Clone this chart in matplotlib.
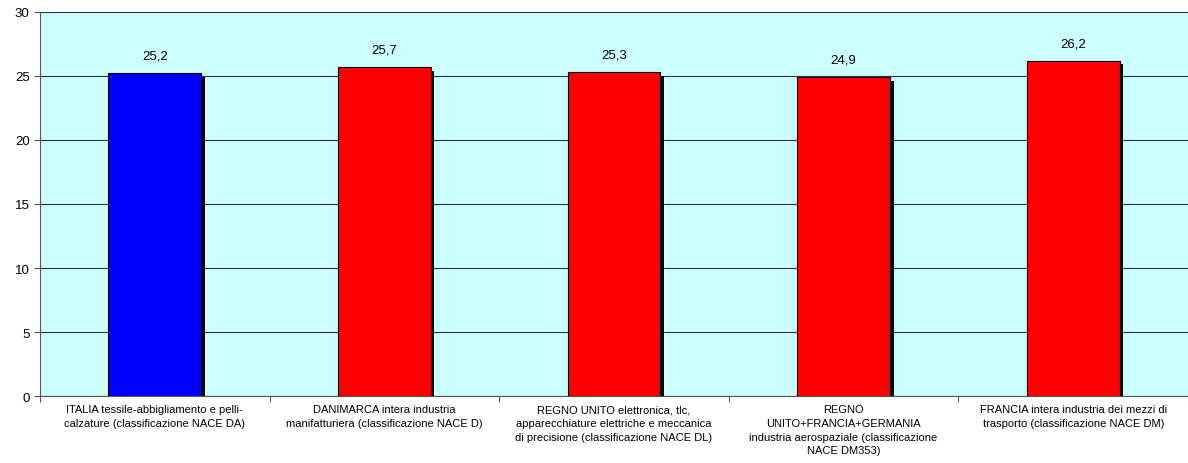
import matplotlib.pyplot as plt
import matplotlib.patheffects as pe
import numpy as np

plt.rcParams['font.family'] = ['Liberation Sans', 'DejaVu Sans']

categorie = [
    'ITALIA tessile-abbigliamento e pelli-\ncalzature (classificazione NACE DA)',
    'DANIMARCA intera industria\nmanifatturiera (classificazione NACE D)',
    'REGNO UNITO elettronica, tlc,\napparecchiature elettriche e meccanica\ndi precisione (classificazione NACE DL)',
    'REGNO\nUNITO+FRANCIA+GERMANIA\nindustria aerospaziale (classificazione\nNACE DM353)',
    'FRANCIA intera industria dei mezzi di\ntrasporto (classificazione NACE DM)',
]
valori = [25.2, 25.7, 25.3, 24.9, 26.2]
colori = ['#0000ff', '#ff0000', '#ff0000', '#ff0000', '#ff0000']

fig = plt.figure(figsize=(11.88, 4.64), dpi=100)
ax = fig.add_axes([40 / 1188, 1 - 397 / 464, 1 - 40 / 1188, 384 / 464])
ax.set_facecolor('#ccffff')

x = np.arange(len(valori))
barre = ax.bar(x, valori, width=0.405, color=colori, edgecolor='black',
               linewidth=0.8, zorder=3)
for b in barre:
    b.set_path_effects([
        pe.SimplePatchShadow(offset=(2.5, -2.5), shadow_rgbFace='black', alpha=1),
        pe.Normal(),
    ])

for xi, v in zip(x, valori):
    ax.text(xi, v + 0.9, f'{v:.1f}'.replace('.', ','), ha='center',
            va='bottom', fontsize=9.5)

ax.set_xlim(-0.5, len(valori) - 0.5)
ax.set_ylim(0, 30)
ax.set_yticks(range(0, 31, 5))
ax.yaxis.grid(True, color='#333333', linewidth=0.8, zorder=0)
ax.set_axisbelow(True)

# tick di separazione tra le categorie, etichette al centro
ax.set_xticks(np.arange(-0.5, len(valori), 1))
ax.set_xticklabels([])
ax.set_xticks(x, minor=True)
ax.set_xticklabels(categorie, minor=True, fontsize=8, linespacing=1.45)
ax.tick_params(axis='x', which='minor', length=0, pad=6)
ax.tick_params(axis='x', which='major', length=4, color='#555555')
ax.tick_params(axis='y', length=4, labelsize=9.5, color='#555555')

for s in ['top', 'right']:
    ax.spines[s].set_visible(False)
for s in ['left', 'bottom']:
    ax.spines[s].set_color('#555555')

fig.savefig('out.png', dpi=100)
